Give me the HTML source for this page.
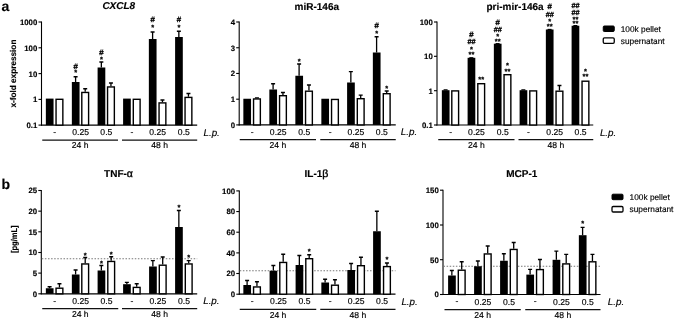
<!DOCTYPE html>
<html><head><meta charset="utf-8"><title>Figure</title>
<style>
html,body{margin:0;padding:0;background:#fff;}
body{width:675px;height:320px;overflow:hidden;font-family:"Liberation Sans",sans-serif;}
svg{display:block;will-change:transform;}
svg text{font-family:"Liberation Sans",sans-serif;fill:#000;stroke:#000;stroke-width:0.15px;text-rendering:geometricPrecision;}
svg text.s{stroke-width:0.35px;}
</style></head><body>
<svg width="675" height="320" viewBox="0 0 675 320">
<rect width="675" height="320" fill="#fff"/>
<path d="M41.50 21.50V125.60" stroke="#000" stroke-width="1.1" fill="none"/>
<path d="M41.00 125.10H197.20" stroke="#000" stroke-width="1.2" fill="none"/>
<path d="M38.50 22.00H41.50" stroke="#000" stroke-width="1.1" fill="none"/>
<text x="37.30" y="24.90" font-size="7.8" text-anchor="end" font-weight="bold" font-style="normal" >1000</text>
<path d="M38.50 47.80H41.50" stroke="#000" stroke-width="1.1" fill="none"/>
<text x="37.30" y="50.70" font-size="7.8" text-anchor="end" font-weight="bold" font-style="normal" >100</text>
<path d="M38.50 73.60H41.50" stroke="#000" stroke-width="1.1" fill="none"/>
<text x="37.30" y="76.50" font-size="7.8" text-anchor="end" font-weight="bold" font-style="normal" >10</text>
<path d="M38.50 99.40H41.50" stroke="#000" stroke-width="1.1" fill="none"/>
<text x="37.30" y="102.30" font-size="7.8" text-anchor="end" font-weight="bold" font-style="normal" >1</text>
<path d="M38.50 125.10H41.50" stroke="#000" stroke-width="1.1" fill="none"/>
<text x="37.30" y="128.00" font-size="7.8" text-anchor="end" font-weight="bold" font-style="normal" >0.1</text>
<rect x="45.85" y="98.60" width="7.7" height="26.50" fill="#000"/>
<rect x="56.05" y="99.30" width="6.8" height="25.80" fill="#fff" stroke="#000" stroke-width="1.4"/>
<text x="54.73" y="135.00" font-size="8.6" text-anchor="middle" font-weight="normal" font-style="normal" >-</text>
<rect x="71.85" y="82.00" width="7.7" height="43.10" fill="#000"/>
<path d="M75.60 82.00V76.75M73.60 76.75H77.60" stroke="#000" stroke-width="1.3" fill="none"/>
<rect x="81.80" y="92.45" width="6.8" height="32.65" fill="#fff" stroke="#000" stroke-width="1.4"/>
<path d="M85.20 91.75V88.75M83.20 88.75H87.20" stroke="#000" stroke-width="1.3" fill="none"/>
<text x="75.75" y="69.01" font-size="7.8" text-anchor="middle" font-weight="normal" font-style="normal" class="s">#</text>
<text x="75.75" y="75.48" font-size="7.5" text-anchor="middle" font-weight="normal" font-style="normal" class="s">*</text>
<text x="80.60" y="135.30" font-size="8.6" text-anchor="middle" font-weight="normal" font-style="normal" >0.25</text>
<rect x="97.60" y="67.50" width="7.7" height="57.60" fill="#000"/>
<path d="M101.35 67.50V62.00M99.35 62.00H103.35" stroke="#000" stroke-width="1.3" fill="none"/>
<rect x="107.55" y="86.95" width="6.8" height="38.15" fill="#fff" stroke="#000" stroke-width="1.4"/>
<path d="M110.95 86.25V83.00M108.95 83.00H112.95" stroke="#000" stroke-width="1.3" fill="none"/>
<text x="101.50" y="54.81" font-size="7.8" text-anchor="middle" font-weight="normal" font-style="normal" class="s">#</text>
<text x="101.50" y="61.77" font-size="7.5" text-anchor="middle" font-weight="normal" font-style="normal" class="s">*</text>
<text x="106.35" y="135.30" font-size="8.6" text-anchor="middle" font-weight="normal" font-style="normal" >0.5</text>
<rect x="123.10" y="98.60" width="7.7" height="26.50" fill="#000"/>
<rect x="133.30" y="99.30" width="6.8" height="25.80" fill="#fff" stroke="#000" stroke-width="1.4"/>
<text x="131.97" y="135.00" font-size="8.6" text-anchor="middle" font-weight="normal" font-style="normal" >-</text>
<rect x="148.85" y="39.00" width="7.7" height="86.10" fill="#000"/>
<path d="M152.60 39.00V32.00M150.60 32.00H154.60" stroke="#000" stroke-width="1.3" fill="none"/>
<rect x="159.05" y="102.90" width="6.8" height="22.20" fill="#fff" stroke="#000" stroke-width="1.4"/>
<path d="M162.45 102.20V100.00M160.45 100.00H164.45" stroke="#000" stroke-width="1.3" fill="none"/>
<text x="152.75" y="22.31" font-size="7.8" text-anchor="middle" font-weight="normal" font-style="normal" class="s">#</text>
<text x="152.75" y="30.27" font-size="7.5" text-anchor="middle" font-weight="normal" font-style="normal" class="s">*</text>
<text x="157.72" y="135.30" font-size="8.6" text-anchor="middle" font-weight="normal" font-style="normal" >0.25</text>
<rect x="175.10" y="37.00" width="7.7" height="88.10" fill="#000"/>
<path d="M178.85 37.00V31.25M176.85 31.25H180.85" stroke="#000" stroke-width="1.3" fill="none"/>
<rect x="185.05" y="97.40" width="6.8" height="27.70" fill="#fff" stroke="#000" stroke-width="1.4"/>
<path d="M188.45 96.70V93.50M186.45 93.50H190.45" stroke="#000" stroke-width="1.3" fill="none"/>
<text x="179.00" y="22.31" font-size="7.8" text-anchor="middle" font-weight="normal" font-style="normal" class="s">#</text>
<text x="179.00" y="30.27" font-size="7.5" text-anchor="middle" font-weight="normal" font-style="normal" class="s">*</text>
<text x="183.85" y="135.30" font-size="8.6" text-anchor="middle" font-weight="normal" font-style="normal" >0.5</text>
<text x="203.50" y="135.60" font-size="9.8" text-anchor="start" font-weight="normal" font-style="italic" >L.p.</text>
<path d="M42.25 140.00H118.00M122.00 140.00H197.20" stroke="#111" stroke-width="1.25" fill="none"/>
<text x="80.12" y="148.20" font-size="8.6" text-anchor="middle" font-weight="normal" font-style="normal" >24 h</text>
<text x="159.60" y="148.20" font-size="8.6" text-anchor="middle" font-weight="normal" font-style="normal" >48 h</text>
<text x="118.80" y="9.40" font-size="10" text-anchor="middle" font-weight="bold" font-style="italic" >CXCL8</text>
<text transform="translate(16.00 73.60) rotate(-90)" font-size="8.4" font-weight="bold" text-anchor="middle" textLength="68.0" lengthAdjust="spacingAndGlyphs">x-fold expression</text>
<path d="M239.20 21.50V125.40" stroke="#000" stroke-width="1.1" fill="none"/>
<path d="M238.70 124.90H395.75" stroke="#000" stroke-width="1.2" fill="none"/>
<path d="M236.20 22.00H239.20" stroke="#000" stroke-width="1.1" fill="none"/>
<text x="235.00" y="24.90" font-size="7.8" text-anchor="end" font-weight="bold" font-style="normal" >4</text>
<path d="M236.20 47.75H239.20" stroke="#000" stroke-width="1.1" fill="none"/>
<text x="235.00" y="50.65" font-size="7.8" text-anchor="end" font-weight="bold" font-style="normal" >3</text>
<path d="M236.20 73.45H239.20" stroke="#000" stroke-width="1.1" fill="none"/>
<text x="235.00" y="76.35" font-size="7.8" text-anchor="end" font-weight="bold" font-style="normal" >2</text>
<path d="M236.20 99.20H239.20" stroke="#000" stroke-width="1.1" fill="none"/>
<text x="235.00" y="102.10" font-size="7.8" text-anchor="end" font-weight="bold" font-style="normal" >1</text>
<path d="M236.20 124.90H239.20" stroke="#000" stroke-width="1.1" fill="none"/>
<text x="235.00" y="127.80" font-size="7.8" text-anchor="end" font-weight="bold" font-style="normal" >0</text>
<rect x="243.35" y="98.75" width="7.7" height="26.15" fill="#000"/>
<rect x="253.55" y="98.95" width="6.8" height="25.95" fill="#fff" stroke="#000" stroke-width="1.4"/>
<path d="M256.95 98.25V97.80M254.95 97.80H258.95" stroke="#000" stroke-width="1.3" fill="none"/>
<text x="252.22" y="134.80" font-size="8.6" text-anchor="middle" font-weight="normal" font-style="normal" >-</text>
<rect x="269.35" y="89.50" width="7.7" height="35.40" fill="#000"/>
<path d="M273.10 89.50V83.75M271.10 83.75H275.10" stroke="#000" stroke-width="1.3" fill="none"/>
<rect x="279.55" y="95.70" width="6.8" height="29.20" fill="#fff" stroke="#000" stroke-width="1.4"/>
<path d="M282.95 95.00V92.50M280.95 92.50H284.95" stroke="#000" stroke-width="1.3" fill="none"/>
<text x="278.23" y="135.10" font-size="8.6" text-anchor="middle" font-weight="normal" font-style="normal" >0.25</text>
<rect x="295.35" y="75.75" width="7.7" height="49.15" fill="#000"/>
<path d="M299.10 75.75V64.00M297.10 64.00H301.10" stroke="#000" stroke-width="1.3" fill="none"/>
<rect x="305.55" y="91.20" width="6.8" height="33.70" fill="#fff" stroke="#000" stroke-width="1.4"/>
<path d="M308.95 90.50V85.00M306.95 85.00H310.95" stroke="#000" stroke-width="1.3" fill="none"/>
<text x="299.25" y="64.28" font-size="7.5" text-anchor="middle" font-weight="normal" font-style="normal" class="s">*</text>
<text x="304.23" y="135.10" font-size="8.6" text-anchor="middle" font-weight="normal" font-style="normal" >0.5</text>
<rect x="321.35" y="98.75" width="7.7" height="26.15" fill="#000"/>
<rect x="331.55" y="99.45" width="6.8" height="25.45" fill="#fff" stroke="#000" stroke-width="1.4"/>
<text x="330.23" y="134.80" font-size="8.6" text-anchor="middle" font-weight="normal" font-style="normal" >-</text>
<rect x="347.10" y="82.50" width="7.7" height="42.40" fill="#000"/>
<path d="M350.85 82.50V71.70M348.85 71.70H352.85" stroke="#000" stroke-width="1.3" fill="none"/>
<rect x="357.30" y="98.70" width="6.8" height="26.20" fill="#fff" stroke="#000" stroke-width="1.4"/>
<path d="M360.70 98.00V95.10M358.70 95.10H362.70" stroke="#000" stroke-width="1.3" fill="none"/>
<text x="355.98" y="135.10" font-size="8.6" text-anchor="middle" font-weight="normal" font-style="normal" >0.25</text>
<rect x="372.85" y="52.50" width="7.7" height="72.40" fill="#000"/>
<path d="M376.60 52.50V36.75M374.60 36.75H378.60" stroke="#000" stroke-width="1.3" fill="none"/>
<rect x="383.30" y="93.70" width="6.8" height="31.20" fill="#fff" stroke="#000" stroke-width="1.4"/>
<path d="M386.70 93.00V91.00M384.70 91.00H388.70" stroke="#000" stroke-width="1.3" fill="none"/>
<text x="376.75" y="27.81" font-size="7.8" text-anchor="middle" font-weight="normal" font-style="normal" class="s">#</text>
<text x="376.75" y="36.27" font-size="7.5" text-anchor="middle" font-weight="normal" font-style="normal" class="s">*</text>
<text x="386.75" y="91.28" font-size="7.5" text-anchor="middle" font-weight="normal" font-style="normal" class="s">*</text>
<text x="381.85" y="135.10" font-size="8.6" text-anchor="middle" font-weight="normal" font-style="normal" >0.5</text>
<text x="400.80" y="135.40" font-size="9.8" text-anchor="start" font-weight="normal" font-style="italic" >L.p.</text>
<path d="M239.75 139.50H316.00M320.25 139.50H395.75" stroke="#111" stroke-width="1.25" fill="none"/>
<text x="277.88" y="148.00" font-size="8.6" text-anchor="middle" font-weight="normal" font-style="normal" >24 h</text>
<text x="358.00" y="148.00" font-size="8.6" text-anchor="middle" font-weight="normal" font-style="normal" >48 h</text>
<text x="316.80" y="10.00" font-size="10" text-anchor="middle" font-weight="bold" font-style="normal" >miR-146a</text>
<path d="M437.00 21.50V125.50" stroke="#000" stroke-width="1.1" fill="none"/>
<path d="M436.50 125.00H593.25" stroke="#000" stroke-width="1.2" fill="none"/>
<path d="M434.00 22.00H437.00" stroke="#000" stroke-width="1.1" fill="none"/>
<text x="432.80" y="24.90" font-size="7.8" text-anchor="end" font-weight="bold" font-style="normal" >100</text>
<path d="M434.00 56.30H437.00" stroke="#000" stroke-width="1.1" fill="none"/>
<text x="432.80" y="59.20" font-size="7.8" text-anchor="end" font-weight="bold" font-style="normal" >10</text>
<path d="M434.00 90.70H437.00" stroke="#000" stroke-width="1.1" fill="none"/>
<text x="432.80" y="93.60" font-size="7.8" text-anchor="end" font-weight="bold" font-style="normal" >1</text>
<path d="M434.00 125.00H437.00" stroke="#000" stroke-width="1.1" fill="none"/>
<text x="432.80" y="127.90" font-size="7.8" text-anchor="end" font-weight="bold" font-style="normal" >0.1</text>
<rect x="441.85" y="90.20" width="7.7" height="34.80" fill="#000"/>
<path d="M445.60 90.20V89.80M443.60 89.80H447.60" stroke="#000" stroke-width="1.3" fill="none"/>
<rect x="451.80" y="90.90" width="6.8" height="34.10" fill="#fff" stroke="#000" stroke-width="1.4"/>
<text x="450.60" y="134.90" font-size="8.6" text-anchor="middle" font-weight="normal" font-style="normal" >-</text>
<rect x="467.60" y="57.80" width="7.7" height="67.20" fill="#000"/>
<path d="M471.35 57.80V57.80M469.35 57.80H473.35" stroke="#000" stroke-width="1.3" fill="none"/>
<rect x="477.80" y="83.70" width="6.8" height="41.30" fill="#fff" stroke="#000" stroke-width="1.4"/>
<text x="471.50" y="37.21" font-size="7.8" text-anchor="middle" font-weight="normal" font-style="normal" class="s">#</text>
<text x="471.50" y="43.63" font-size="7.3" text-anchor="middle" font-weight="normal" font-style="normal" class="s">##</text>
<text x="471.50" y="51.77" font-size="7.5" text-anchor="middle" font-weight="normal" font-style="normal" class="s">*</text>
<text x="471.50" y="57.27" font-size="7.5" text-anchor="middle" font-weight="normal" font-style="normal" class="s">**</text>
<text x="481.25" y="82.18" font-size="7.5" text-anchor="middle" font-weight="normal" font-style="normal" class="s">**</text>
<text x="476.48" y="135.20" font-size="8.6" text-anchor="middle" font-weight="normal" font-style="normal" >0.25</text>
<rect x="493.85" y="43.70" width="7.7" height="81.30" fill="#000"/>
<path d="M497.60 43.70V43.70M495.60 43.70H499.60" stroke="#000" stroke-width="1.3" fill="none"/>
<rect x="504.05" y="74.70" width="6.8" height="50.30" fill="#fff" stroke="#000" stroke-width="1.4"/>
<text x="497.75" y="24.91" font-size="7.8" text-anchor="middle" font-weight="normal" font-style="normal" class="s">#</text>
<text x="497.75" y="31.83" font-size="7.3" text-anchor="middle" font-weight="normal" font-style="normal" class="s">##</text>
<text x="497.75" y="39.07" font-size="7.5" text-anchor="middle" font-weight="normal" font-style="normal" class="s">*</text>
<text x="497.75" y="44.07" font-size="7.5" text-anchor="middle" font-weight="normal" font-style="normal" class="s">**</text>
<text x="507.50" y="68.28" font-size="7.5" text-anchor="middle" font-weight="normal" font-style="normal" class="s">*</text>
<text x="507.50" y="74.28" font-size="7.5" text-anchor="middle" font-weight="normal" font-style="normal" class="s">**</text>
<text x="502.73" y="135.20" font-size="8.6" text-anchor="middle" font-weight="normal" font-style="normal" >0.5</text>
<rect x="519.60" y="90.20" width="7.7" height="34.80" fill="#000"/>
<path d="M523.35 90.20V89.80M521.35 89.80H525.35" stroke="#000" stroke-width="1.3" fill="none"/>
<rect x="529.80" y="90.90" width="6.8" height="34.10" fill="#fff" stroke="#000" stroke-width="1.4"/>
<text x="528.48" y="134.90" font-size="8.6" text-anchor="middle" font-weight="normal" font-style="normal" >-</text>
<rect x="545.85" y="29.50" width="7.7" height="95.50" fill="#000"/>
<path d="M549.60 29.50V29.50M547.60 29.50H551.60" stroke="#000" stroke-width="1.3" fill="none"/>
<rect x="556.05" y="91.20" width="6.8" height="33.80" fill="#fff" stroke="#000" stroke-width="1.4"/>
<path d="M559.45 90.50V85.50M557.45 85.50H561.45" stroke="#000" stroke-width="1.3" fill="none"/>
<text x="549.75" y="9.41" font-size="7.8" text-anchor="middle" font-weight="normal" font-style="normal" class="s">#</text>
<text x="549.75" y="17.13" font-size="7.3" text-anchor="middle" font-weight="normal" font-style="normal" class="s">##</text>
<text x="549.75" y="24.27" font-size="7.5" text-anchor="middle" font-weight="normal" font-style="normal" class="s">*</text>
<text x="549.75" y="29.27" font-size="7.5" text-anchor="middle" font-weight="normal" font-style="normal" class="s">**</text>
<text x="554.73" y="135.20" font-size="8.6" text-anchor="middle" font-weight="normal" font-style="normal" >0.25</text>
<rect x="571.60" y="25.75" width="7.7" height="99.25" fill="#000"/>
<path d="M575.35 25.75V25.70M573.35 25.70H577.35" stroke="#000" stroke-width="1.3" fill="none"/>
<rect x="582.05" y="81.20" width="6.8" height="43.80" fill="#fff" stroke="#000" stroke-width="1.4"/>
<text x="575.50" y="7.63" font-size="7.3" text-anchor="middle" font-weight="normal" font-style="normal" class="s">##</text>
<text x="575.50" y="14.63" font-size="7.3" text-anchor="middle" font-weight="normal" font-style="normal" class="s">##</text>
<text x="575.50" y="22.27" font-size="7.5" text-anchor="middle" font-weight="normal" font-style="normal" class="s">**</text>
<text x="575.50" y="25.97" font-size="7.5" text-anchor="middle" font-weight="normal" font-style="normal" class="s">**</text>
<text x="585.50" y="74.28" font-size="7.5" text-anchor="middle" font-weight="normal" font-style="normal" class="s">*</text>
<text x="585.50" y="79.28" font-size="7.5" text-anchor="middle" font-weight="normal" font-style="normal" class="s">**</text>
<text x="580.60" y="135.20" font-size="8.6" text-anchor="middle" font-weight="normal" font-style="normal" >0.5</text>
<text x="599.90" y="135.50" font-size="9.8" text-anchor="start" font-weight="normal" font-style="italic" >L.p.</text>
<path d="M438.25 139.50H514.50M518.50 139.50H593.25" stroke="#111" stroke-width="1.25" fill="none"/>
<text x="476.38" y="148.10" font-size="8.6" text-anchor="middle" font-weight="normal" font-style="normal" >24 h</text>
<text x="555.88" y="148.10" font-size="8.6" text-anchor="middle" font-weight="normal" font-style="normal" >48 h</text>
<text x="515.00" y="10.00" font-size="10" text-anchor="middle" font-weight="bold" font-style="normal" >pri-mir-146a</text>
<path d="M41.30 190.00V294.30" stroke="#000" stroke-width="1.1" fill="none"/>
<path d="M40.80 293.80H197.20" stroke="#000" stroke-width="1.2" fill="none"/>
<path d="M38.30 190.50H41.30" stroke="#000" stroke-width="1.1" fill="none"/>
<text x="37.10" y="193.40" font-size="7.8" text-anchor="end" font-weight="bold" font-style="normal" >25</text>
<path d="M38.30 211.15H41.30" stroke="#000" stroke-width="1.1" fill="none"/>
<text x="37.10" y="214.05" font-size="7.8" text-anchor="end" font-weight="bold" font-style="normal" >20</text>
<path d="M38.30 231.80H41.30" stroke="#000" stroke-width="1.1" fill="none"/>
<text x="37.10" y="234.70" font-size="7.8" text-anchor="end" font-weight="bold" font-style="normal" >15</text>
<path d="M38.30 252.50H41.30" stroke="#000" stroke-width="1.1" fill="none"/>
<text x="37.10" y="255.40" font-size="7.8" text-anchor="end" font-weight="bold" font-style="normal" >10</text>
<path d="M38.30 273.10H41.30" stroke="#000" stroke-width="1.1" fill="none"/>
<text x="37.10" y="276.00" font-size="7.8" text-anchor="end" font-weight="bold" font-style="normal" >5</text>
<path d="M38.30 293.80H41.30" stroke="#000" stroke-width="1.1" fill="none"/>
<text x="37.10" y="296.70" font-size="7.8" text-anchor="end" font-weight="bold" font-style="normal" >0</text>
<path d="M41.80 258.75H197.20" stroke="#777" stroke-width="1" stroke-dasharray="1.5 1.6" fill="none"/>
<rect x="45.85" y="288.25" width="7.7" height="5.55" fill="#000"/>
<path d="M49.60 288.25V286.75M47.60 286.75H51.60" stroke="#000" stroke-width="1.3" fill="none"/>
<rect x="56.05" y="288.20" width="6.8" height="5.60" fill="#fff" stroke="#000" stroke-width="1.4"/>
<path d="M59.45 287.50V283.75M57.45 283.75H61.45" stroke="#000" stroke-width="1.3" fill="none"/>
<text x="54.73" y="303.60" font-size="8.6" text-anchor="middle" font-weight="normal" font-style="normal" >-</text>
<rect x="71.85" y="274.50" width="7.7" height="19.30" fill="#000"/>
<path d="M75.60 274.50V270.00M73.60 270.00H77.60" stroke="#000" stroke-width="1.3" fill="none"/>
<rect x="81.80" y="263.95" width="6.8" height="29.85" fill="#fff" stroke="#000" stroke-width="1.4"/>
<path d="M85.20 263.25V257.50M83.20 257.50H87.20" stroke="#000" stroke-width="1.3" fill="none"/>
<text x="85.25" y="257.97" font-size="7.5" text-anchor="middle" font-weight="normal" font-style="normal" class="s">*</text>
<text x="80.60" y="303.90" font-size="8.6" text-anchor="middle" font-weight="normal" font-style="normal" >0.25</text>
<rect x="97.60" y="270.50" width="7.7" height="23.30" fill="#000"/>
<path d="M101.35 270.50V265.50M99.35 265.50H103.35" stroke="#000" stroke-width="1.3" fill="none"/>
<rect x="107.80" y="261.45" width="6.8" height="32.35" fill="#fff" stroke="#000" stroke-width="1.4"/>
<path d="M111.20 260.75V256.75M109.20 256.75H113.20" stroke="#000" stroke-width="1.3" fill="none"/>
<text x="101.50" y="266.27" font-size="7.5" text-anchor="middle" font-weight="normal" font-style="normal" class="s">*</text>
<text x="111.25" y="256.68" font-size="7.5" text-anchor="middle" font-weight="normal" font-style="normal" class="s">*</text>
<text x="106.47" y="303.90" font-size="8.6" text-anchor="middle" font-weight="normal" font-style="normal" >0.5</text>
<rect x="123.10" y="284.20" width="7.7" height="9.60" fill="#000"/>
<path d="M126.85 284.20V282.30M124.85 282.30H128.85" stroke="#000" stroke-width="1.3" fill="none"/>
<rect x="133.30" y="287.40" width="6.8" height="6.40" fill="#fff" stroke="#000" stroke-width="1.4"/>
<path d="M136.70 286.70V283.75M134.70 283.75H138.70" stroke="#000" stroke-width="1.3" fill="none"/>
<text x="131.97" y="303.60" font-size="8.6" text-anchor="middle" font-weight="normal" font-style="normal" >-</text>
<rect x="149.10" y="266.50" width="7.7" height="27.30" fill="#000"/>
<path d="M152.85 266.50V260.60M150.85 260.60H154.85" stroke="#000" stroke-width="1.3" fill="none"/>
<rect x="159.30" y="265.20" width="6.8" height="28.60" fill="#fff" stroke="#000" stroke-width="1.4"/>
<path d="M162.70 264.50V257.00M160.70 257.00H164.70" stroke="#000" stroke-width="1.3" fill="none"/>
<text x="157.97" y="303.90" font-size="8.6" text-anchor="middle" font-weight="normal" font-style="normal" >0.25</text>
<rect x="175.10" y="227.00" width="7.7" height="66.80" fill="#000"/>
<path d="M178.85 227.00V210.50M176.85 210.50H180.85" stroke="#000" stroke-width="1.3" fill="none"/>
<rect x="185.30" y="263.95" width="6.8" height="29.85" fill="#fff" stroke="#000" stroke-width="1.4"/>
<path d="M188.70 263.25V260.70M186.70 260.70H190.70" stroke="#000" stroke-width="1.3" fill="none"/>
<text x="179.00" y="210.28" font-size="7.5" text-anchor="middle" font-weight="normal" font-style="normal" class="s">*</text>
<text x="188.75" y="259.97" font-size="7.5" text-anchor="middle" font-weight="normal" font-style="normal" class="s">*</text>
<text x="183.97" y="303.90" font-size="8.6" text-anchor="middle" font-weight="normal" font-style="normal" >0.5</text>
<text x="203.20" y="304.20" font-size="9.8" text-anchor="start" font-weight="normal" font-style="italic" >L.p.</text>
<path d="M42.25 308.70H118.25M122.00 308.70H197.20" stroke="#111" stroke-width="1.25" fill="none"/>
<text x="80.25" y="317.40" font-size="8.6" text-anchor="middle" font-weight="normal" font-style="normal" >24 h</text>
<text x="159.60" y="317.40" font-size="8.6" text-anchor="middle" font-weight="normal" font-style="normal" >48 h</text>
<text x="118.5" y="176.9" font-size="10" font-weight="bold" text-anchor="middle">TNF-<tspan font-weight="normal" font-size="10.5" style="stroke-width:0.4px">α</tspan></text>
<text transform="translate(16.80 239.20) rotate(-90)" font-size="8.4" font-weight="bold" text-anchor="middle" textLength="27.6" lengthAdjust="spacingAndGlyphs">[pg/mL]</text>
<path d="M239.30 190.40V294.70" stroke="#000" stroke-width="1.1" fill="none"/>
<path d="M238.80 294.20H395.50" stroke="#000" stroke-width="1.2" fill="none"/>
<path d="M236.30 190.90H239.30" stroke="#000" stroke-width="1.1" fill="none"/>
<text x="235.10" y="193.80" font-size="7.8" text-anchor="end" font-weight="bold" font-style="normal" >100</text>
<path d="M236.30 211.55H239.30" stroke="#000" stroke-width="1.1" fill="none"/>
<text x="235.10" y="214.45" font-size="7.8" text-anchor="end" font-weight="bold" font-style="normal" >80</text>
<path d="M236.30 232.20H239.30" stroke="#000" stroke-width="1.1" fill="none"/>
<text x="235.10" y="235.10" font-size="7.8" text-anchor="end" font-weight="bold" font-style="normal" >60</text>
<path d="M236.30 252.90H239.30" stroke="#000" stroke-width="1.1" fill="none"/>
<text x="235.10" y="255.80" font-size="7.8" text-anchor="end" font-weight="bold" font-style="normal" >40</text>
<path d="M236.30 273.50H239.30" stroke="#000" stroke-width="1.1" fill="none"/>
<text x="235.10" y="276.40" font-size="7.8" text-anchor="end" font-weight="bold" font-style="normal" >20</text>
<path d="M236.30 294.20H239.30" stroke="#000" stroke-width="1.1" fill="none"/>
<text x="235.10" y="297.10" font-size="7.8" text-anchor="end" font-weight="bold" font-style="normal" >0</text>
<path d="M239.80 270.75H395.50" stroke="#777" stroke-width="1" stroke-dasharray="1.5 1.6" fill="none"/>
<rect x="243.35" y="285.00" width="7.7" height="9.20" fill="#000"/>
<path d="M247.10 285.00V280.50M245.10 280.50H249.10" stroke="#000" stroke-width="1.3" fill="none"/>
<rect x="253.55" y="286.95" width="6.8" height="7.25" fill="#fff" stroke="#000" stroke-width="1.4"/>
<path d="M256.95 286.25V281.75M254.95 281.75H258.95" stroke="#000" stroke-width="1.3" fill="none"/>
<text x="252.22" y="304.00" font-size="8.6" text-anchor="middle" font-weight="normal" font-style="normal" >-</text>
<rect x="269.60" y="270.75" width="7.7" height="23.45" fill="#000"/>
<path d="M273.35 270.75V265.50M271.35 265.50H275.35" stroke="#000" stroke-width="1.3" fill="none"/>
<rect x="279.80" y="262.45" width="6.8" height="31.75" fill="#fff" stroke="#000" stroke-width="1.4"/>
<path d="M283.20 261.75V254.25M281.20 254.25H285.20" stroke="#000" stroke-width="1.3" fill="none"/>
<text x="278.48" y="304.30" font-size="8.6" text-anchor="middle" font-weight="normal" font-style="normal" >0.25</text>
<rect x="295.60" y="265.00" width="7.7" height="29.20" fill="#000"/>
<path d="M299.35 265.00V255.50M297.35 255.50H301.35" stroke="#000" stroke-width="1.3" fill="none"/>
<rect x="305.80" y="258.70" width="6.8" height="35.50" fill="#fff" stroke="#000" stroke-width="1.4"/>
<path d="M309.20 258.00V254.75M307.20 254.75H311.20" stroke="#000" stroke-width="1.3" fill="none"/>
<text x="309.25" y="254.28" font-size="7.5" text-anchor="middle" font-weight="normal" font-style="normal" class="s">*</text>
<text x="304.48" y="304.30" font-size="8.6" text-anchor="middle" font-weight="normal" font-style="normal" >0.5</text>
<rect x="321.35" y="282.50" width="7.7" height="11.70" fill="#000"/>
<path d="M325.10 282.50V279.25M323.10 279.25H327.10" stroke="#000" stroke-width="1.3" fill="none"/>
<rect x="331.55" y="285.20" width="6.8" height="9.00" fill="#fff" stroke="#000" stroke-width="1.4"/>
<path d="M334.95 284.50V279.75M332.95 279.75H336.95" stroke="#000" stroke-width="1.3" fill="none"/>
<text x="330.23" y="304.00" font-size="8.6" text-anchor="middle" font-weight="normal" font-style="normal" >-</text>
<rect x="347.35" y="270.00" width="7.7" height="24.20" fill="#000"/>
<path d="M351.10 270.00V263.50M349.10 263.50H353.10" stroke="#000" stroke-width="1.3" fill="none"/>
<rect x="357.55" y="265.70" width="6.8" height="28.50" fill="#fff" stroke="#000" stroke-width="1.4"/>
<path d="M360.95 265.00V257.25M358.95 257.25H362.95" stroke="#000" stroke-width="1.3" fill="none"/>
<text x="356.23" y="304.30" font-size="8.6" text-anchor="middle" font-weight="normal" font-style="normal" >0.25</text>
<rect x="373.10" y="231.25" width="7.7" height="62.95" fill="#000"/>
<path d="M376.85 231.25V211.25M374.85 211.25H378.85" stroke="#000" stroke-width="1.3" fill="none"/>
<rect x="383.55" y="266.60" width="6.8" height="27.60" fill="#fff" stroke="#000" stroke-width="1.4"/>
<path d="M386.95 265.90V263.00M384.95 263.00H388.95" stroke="#000" stroke-width="1.3" fill="none"/>
<text x="387.00" y="261.97" font-size="7.5" text-anchor="middle" font-weight="normal" font-style="normal" class="s">*</text>
<text x="382.10" y="304.30" font-size="8.6" text-anchor="middle" font-weight="normal" font-style="normal" >0.5</text>
<text x="401.40" y="304.60" font-size="9.8" text-anchor="start" font-weight="normal" font-style="italic" >L.p.</text>
<path d="M239.75 309.30H316.25M320.25 309.30H395.50" stroke="#111" stroke-width="1.25" fill="none"/>
<text x="278.00" y="317.80" font-size="8.6" text-anchor="middle" font-weight="normal" font-style="normal" >24 h</text>
<text x="357.88" y="317.80" font-size="8.6" text-anchor="middle" font-weight="normal" font-style="normal" >48 h</text>
<text x="316.5" y="176.9" font-size="10" font-weight="bold" text-anchor="middle">IL-1<tspan font-weight="normal" font-size="10.5" style="stroke-width:0.4px">β</tspan></text>
<path d="M443.00 189.70V295.00" stroke="#000" stroke-width="1.1" fill="none"/>
<path d="M442.50 294.50H600.50" stroke="#000" stroke-width="1.2" fill="none"/>
<path d="M440.00 190.20H443.00" stroke="#000" stroke-width="1.1" fill="none"/>
<text x="438.80" y="193.10" font-size="7.8" text-anchor="end" font-weight="bold" font-style="normal" >150</text>
<path d="M440.00 225.00H443.00" stroke="#000" stroke-width="1.1" fill="none"/>
<text x="438.80" y="227.90" font-size="7.8" text-anchor="end" font-weight="bold" font-style="normal" >100</text>
<path d="M440.00 259.70H443.00" stroke="#000" stroke-width="1.1" fill="none"/>
<text x="438.80" y="262.60" font-size="7.8" text-anchor="end" font-weight="bold" font-style="normal" >50</text>
<path d="M440.00 294.50H443.00" stroke="#000" stroke-width="1.1" fill="none"/>
<text x="438.80" y="297.40" font-size="7.8" text-anchor="end" font-weight="bold" font-style="normal" >0</text>
<path d="M443.50 266.25H600.50" stroke="#777" stroke-width="1" stroke-dasharray="1.5 1.6" fill="none"/>
<rect x="448.10" y="275.50" width="7.7" height="19.00" fill="#000"/>
<path d="M451.85 275.50V270.50M449.85 270.50H453.85" stroke="#000" stroke-width="1.3" fill="none"/>
<rect x="458.30" y="270.20" width="6.8" height="24.30" fill="#fff" stroke="#000" stroke-width="1.4"/>
<path d="M461.70 269.50V261.75M459.70 261.75H463.70" stroke="#000" stroke-width="1.3" fill="none"/>
<text x="456.98" y="304.30" font-size="8.6" text-anchor="middle" font-weight="normal" font-style="normal" >-</text>
<rect x="474.10" y="266.25" width="7.7" height="28.25" fill="#000"/>
<path d="M477.85 266.25V261.00M475.85 261.00H479.85" stroke="#000" stroke-width="1.3" fill="none"/>
<rect x="484.30" y="253.95" width="6.8" height="40.55" fill="#fff" stroke="#000" stroke-width="1.4"/>
<path d="M487.70 253.25V246.00M485.70 246.00H489.70" stroke="#000" stroke-width="1.3" fill="none"/>
<text x="482.98" y="304.60" font-size="8.6" text-anchor="middle" font-weight="normal" font-style="normal" >0.25</text>
<rect x="500.10" y="260.75" width="7.7" height="33.75" fill="#000"/>
<path d="M503.85 260.75V253.75M501.85 253.75H505.85" stroke="#000" stroke-width="1.3" fill="none"/>
<rect x="510.30" y="249.45" width="6.8" height="45.05" fill="#fff" stroke="#000" stroke-width="1.4"/>
<path d="M513.70 248.75V242.50M511.70 242.50H515.70" stroke="#000" stroke-width="1.3" fill="none"/>
<text x="508.98" y="304.60" font-size="8.6" text-anchor="middle" font-weight="normal" font-style="normal" >0.5</text>
<rect x="526.35" y="274.60" width="7.7" height="19.90" fill="#000"/>
<path d="M530.10 274.60V269.40M528.10 269.40H532.10" stroke="#000" stroke-width="1.3" fill="none"/>
<rect x="536.55" y="269.60" width="6.8" height="24.90" fill="#fff" stroke="#000" stroke-width="1.4"/>
<path d="M539.95 268.90V259.50M537.95 259.50H541.95" stroke="#000" stroke-width="1.3" fill="none"/>
<text x="535.23" y="304.30" font-size="8.6" text-anchor="middle" font-weight="normal" font-style="normal" >-</text>
<rect x="552.60" y="259.80" width="7.7" height="34.70" fill="#000"/>
<path d="M556.35 259.80V251.20M554.35 251.20H558.35" stroke="#000" stroke-width="1.3" fill="none"/>
<rect x="562.80" y="263.90" width="6.8" height="30.60" fill="#fff" stroke="#000" stroke-width="1.4"/>
<path d="M566.20 263.20V254.40M564.20 254.40H568.20" stroke="#000" stroke-width="1.3" fill="none"/>
<text x="561.48" y="304.60" font-size="8.6" text-anchor="middle" font-weight="normal" font-style="normal" >0.25</text>
<rect x="578.85" y="235.20" width="7.7" height="59.30" fill="#000"/>
<path d="M582.60 235.20V227.40M580.60 227.40H584.60" stroke="#000" stroke-width="1.3" fill="none"/>
<rect x="589.05" y="261.80" width="6.8" height="32.70" fill="#fff" stroke="#000" stroke-width="1.4"/>
<path d="M592.45 261.10V254.40M590.45 254.40H594.45" stroke="#000" stroke-width="1.3" fill="none"/>
<text x="582.75" y="226.28" font-size="7.5" text-anchor="middle" font-weight="normal" font-style="normal" class="s">*</text>
<text x="587.73" y="304.60" font-size="8.6" text-anchor="middle" font-weight="normal" font-style="normal" >0.5</text>
<text x="607.80" y="304.90" font-size="9.8" text-anchor="start" font-weight="normal" font-style="italic" >L.p.</text>
<path d="M444.50 309.50H520.75M525.25 309.50H600.50" stroke="#111" stroke-width="1.25" fill="none"/>
<text x="482.62" y="318.10" font-size="8.6" text-anchor="middle" font-weight="normal" font-style="normal" >24 h</text>
<text x="562.88" y="318.10" font-size="8.6" text-anchor="middle" font-weight="normal" font-style="normal" >48 h</text>
<text x="521.75" y="176.9" font-size="10" font-weight="bold" text-anchor="middle">MCP-1</text>
<text x="1.40" y="11.30" font-size="14" text-anchor="start" font-weight="bold" font-style="normal" >a</text>
<text x="1.40" y="188.80" font-size="14" text-anchor="start" font-weight="bold" font-style="normal" >b</text>
<rect x="603.25" y="26.00" width="11" height="5.5" rx="1" fill="#000" stroke="#000" stroke-width="1"/>
<rect x="603.25" y="37.80" width="11" height="5.5" rx="1.2" fill="#fff" stroke="#000" stroke-width="1.3"/>
<text x="620.75" y="31.75" font-size="8.3" text-anchor="start" font-weight="normal" font-style="normal" >100k pellet</text>
<text x="620.75" y="43.55" font-size="8.3" text-anchor="start" font-weight="normal" font-style="normal" >supernatant</text>
<rect x="612.00" y="194.20" width="11" height="5.5" rx="1" fill="#000" stroke="#000" stroke-width="1"/>
<rect x="612.00" y="206.50" width="11" height="5.5" rx="1.2" fill="#fff" stroke="#000" stroke-width="1.3"/>
<text x="629.60" y="199.95" font-size="8.3" text-anchor="start" font-weight="normal" font-style="normal" >100k pellet</text>
<text x="629.60" y="212.25" font-size="8.3" text-anchor="start" font-weight="normal" font-style="normal" >supernatant</text>
</svg>
</body></html>
